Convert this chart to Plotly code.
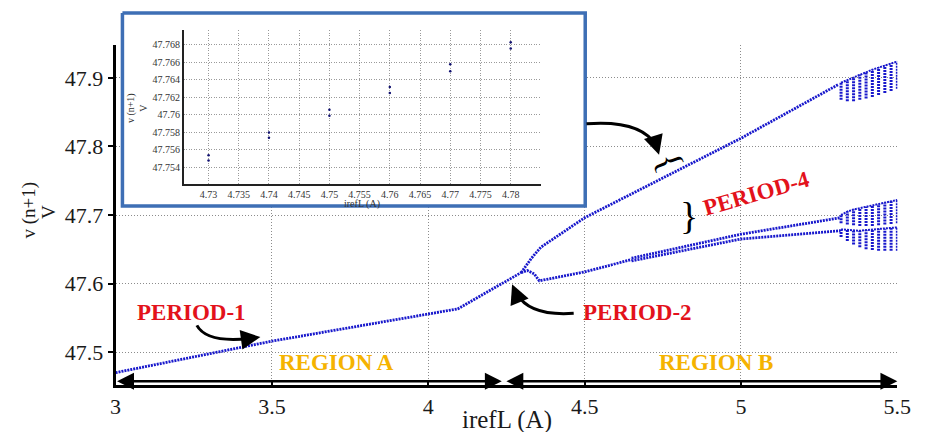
import plotly.graph_objects as go

W, H = 927, 432
BLUE = "#1818cc"
RED = "#e3121b"
GOLD = "#f5b300"
FRAME = "#3e6fb5"
SERIF = "Liberation Serif, Times New Roman, serif"

# ---------------- main chart data ----------------
p1_x = [3.0, 3.5, 4.094, 4.27, 4.297]
p1_y = [47.470, 47.516, 47.563, 47.609, 47.616]

up_x = [4.297, 4.33, 4.36, 4.5, 5.0, 5.31]
up_y = [47.616, 47.637, 47.653, 47.696, 47.812, 47.890]

low_x = [4.297, 4.317, 4.339, 4.355, 4.5, 4.65]
low_y = [47.616, 47.619, 47.614, 47.604, 47.617, 47.635]

p4a_x = [4.65, 5.0, 5.318]
p4a_y = [47.637, 47.672, 47.696]
p4b_x = [4.65, 5.0, 5.318]
p4b_y = [47.633, 47.665, 47.677]

chaos_x = [5.32, 5.34, 5.36, 5.38, 5.40, 5.42, 5.44, 5.46, 5.48, 5.50]
band1_top = [47.893, 47.897, 47.901, 47.905, 47.909, 47.912, 47.915, 47.918, 47.921, 47.924]
band1_bot = [47.868, 47.866, 47.866, 47.868, 47.870, 47.872, 47.875, 47.878, 47.881, 47.884]
band2_top = [47.700, 47.705, 47.708, 47.710, 47.712, 47.714, 47.716, 47.718, 47.720, 47.722]
band2_bot = [47.688, 47.686, 47.685, 47.684, 47.684, 47.684, 47.685, 47.686, 47.687, 47.688]
band3_top = [47.679, 47.678, 47.677, 47.677, 47.678, 47.679, 47.680, 47.680, 47.681, 47.682]
band3_bot = [47.668, 47.662, 47.657, 47.653, 47.650, 47.649, 47.648, 47.648, 47.648, 47.648]

# ---------------- inset data ----------------
inset_x = [4.73, 4.74, 4.75, 4.76, 4.77, 4.78]
inset_y1 = [47.7554, 47.7580, 47.7606, 47.7632, 47.7658, 47.7683]
inset_y2 = [47.7548, 47.7574, 47.7599, 47.7625, 47.7650, 47.7676]

# ticks
main_xticks = [3, 3.5, 4, 4.5, 5, 5.5]
main_yticks = [47.5, 47.6, 47.7, 47.8, 47.9]
inset_xticks = [4.73, 4.735, 4.74, 4.745, 4.75, 4.755, 4.76, 4.765, 4.77, 4.775, 4.78]
inset_yticks = [47.754, 47.756, 47.758, 47.76, 47.762, 47.764, 47.766, 47.768]

fig = go.Figure()

line_style = dict(color=BLUE, width=2.8, dash="2px,1px")
for xs, ys in [(p1_x, p1_y), (up_x, up_y), (low_x, low_y), (p4a_x, p4a_y), (p4b_x, p4b_y)]:
    fig.add_trace(go.Scatter(x=xs, y=ys, mode="lines", line=line_style,
                             xaxis="x", yaxis="y", showlegend=False, hoverinfo="skip"))


def columns(xs, tops, bots):
    cx, cy = [], []
    for x, t, b in zip(xs, tops, bots):
        cx += [x, x, None]
        cy += [b, t, None]
    return cx, cy


for tops, bots in [(band1_top, band1_bot), (band2_top, band2_bot), (band3_top, band3_bot)]:
    cx, cy = columns(chaos_x, tops, bots)
    fig.add_trace(go.Scatter(x=cx, y=cy, mode="lines",
                             line=dict(color=BLUE, width=3, dash="2px,1px"),
                             xaxis="x", yaxis="y", showlegend=False, hoverinfo="skip"))
    fig.add_trace(go.Scatter(x=chaos_x, y=tops, mode="lines",
                             line=dict(color=BLUE, width=2, dash="2px,1px"),
                             xaxis="x", yaxis="y", showlegend=False, hoverinfo="skip"))

# white inset panel with blue frame (on a full-figure overlay subplot)
fig.add_trace(go.Scatter(x=[119, 592, 592, 119, 119], y=[13, 13, 206, 206, 13],
                         mode="lines", fill="toself", fillcolor="white",
                         line=dict(color=FRAME, width=3.5),
                         xaxis="x2", yaxis="y2", showlegend=False, hoverinfo="skip"))

# inset points
for ys in (inset_y1, inset_y2):
    fig.add_trace(go.Scatter(x=inset_x, y=ys, mode="markers",
                             marker=dict(color="#101070", size=2.5),
                             xaxis="x3", yaxis="y3", showlegend=False, hoverinfo="skip"))

grid = dict(showgrid=True, gridcolor="#8c8c8c", griddash="1px,2px", gridwidth=1, zeroline=False)
igrid = dict(showgrid=True, gridcolor="#9a9a9a", griddash="1px,1.5px", gridwidth=1, zeroline=False)

fig.update_layout(
    width=W, height=H,
    margin=dict(l=0, r=0, t=0, b=0),
    paper_bgcolor="white", plot_bgcolor="rgba(0,0,0,0)",
    xaxis=dict(domain=[112 / W, 911 / W], range=[3, 5.5], tickvals=main_xticks,
               showline=True, linewidth=3, linecolor="black", ticks="inside",
               ticklen=5, tickwidth=2, tickcolor="black",
               tickfont=dict(family=SERIF, size=22, color="#1a1a1a"), anchor="y", **grid),
    yaxis=dict(domain=[47 / H, 387 / H], range=[47.452, 47.948], tickvals=main_yticks,
               showline=True, linewidth=3, linecolor="black", ticks="outside",
               ticklen=5, tickwidth=2, tickcolor="black",
               tickfont=dict(family=SERIF, size=22, color="#1a1a1a"), anchor="x", **grid),
    xaxis2=dict(domain=[0, 1], range=[0, W], visible=False, anchor="y2", fixedrange=True),
    yaxis2=dict(domain=[0, 1], range=[H, 0], visible=False, anchor="x2", fixedrange=True),
    xaxis3=dict(domain=[181.7 / W, 546.7 / W], range=[4.7259, 4.785], tickvals=inset_xticks,
                showline=True, linewidth=1.5, linecolor="#222", ticks="",
                tickfont=dict(family=SERIF, size=10, color="#333"), anchor="y3", **igrid),
    yaxis3=dict(domain=[(H - 184) / H, (H - 30) / H], range=[47.7521, 47.7697],
                tickvals=inset_yticks, showline=True, linewidth=1.5, linecolor="#222", ticks="",
                tickfont=dict(family=SERIF, size=10, color="#333"), anchor="x3", **igrid),
)

# ---------------- text annotations ----------------
ann = []
ctr = dict(xanchor="center", yanchor="middle", showarrow=False)
# axis titles
ann.append(dict(text="irefL (A)", xref="paper", yref="paper", x=512 / W, y=(H - 420) / H,
                font=dict(family=SERIF, size=25, color="#1a1a1a"), **ctr))
ann.append(dict(text="v (n+1)", xref="paper", yref="paper", x=24 / W, y=(H - 210) / H,
                textangle=-90, font=dict(family=SERIF, size=19, color="#1a1a1a"), **ctr))
ann.append(dict(text="V", xref="paper", yref="paper", x=44 / W, y=(H - 212) / H,
                textangle=-90, font=dict(family=SERIF, size=19, color="#1a1a1a"), **ctr))
# inset titles
ann.append(dict(text="irefL (A)", xref="paper", yref="paper", x=364 / W, y=(H - 204) / H,
                font=dict(family=SERIF, size=10, color="#333"), **ctr))
ann.append(dict(text="v (n+1)<br>V", xref="paper", yref="paper", x=134 / W, y=(H - 108) / H,
                textangle=-90, font=dict(family=SERIF, size=10, color="#333"), **ctr))

bold_red = dict(family=SERIF, size=23, color=RED, weight="bold")
ann.append(dict(text="PERIOD-1", x=3.244, y=47.558, font=bold_red, **ctr))
ann.append(dict(text="PERIOD-2", x=4.669, y=47.558, font=bold_red, **ctr))
ann.append(dict(text="PERIOD-4", x=5.05, y=47.731, textangle=-16, font=bold_red, **ctr))
gold = dict(family=SERIF, size=23, color=GOLD, weight="bold")
ann.append(dict(text="REGION A", x=3.708, y=47.4855, font=gold, **ctr))
ann.append(dict(text="REGION B", x=4.919, y=47.4855, font=gold, **ctr))
# braces
ann.append(dict(text="}", x=4.835, y=47.699,
                font=dict(family=SERIF, size=38, color="black"), **ctr))
ann.append(dict(text="}", x=4.76, y=47.776, textangle=-112,
                font=dict(family=SERIF, size=36, color="black"), **ctr))

# arrowheads at the ends of the curved arrows
for tip_x, tip_y, ax, ay in [(3.463, 47.522, -14, 2), (4.738, 47.788, -4, -13), (4.268, 47.599, 5, 12)]:
    ann.append(dict(x=tip_x, y=tip_y, ax=ax, ay=ay, text="", showarrow=True,
                    arrowhead=2, arrowsize=1.3, arrowwidth=3, arrowcolor="black"))

# region double arrows
for x0, x1 in [(3.0, 4.235), (4.245, 5.5)]:
    ann.append(dict(x=x1, y=47.4575, ax=x0, ay=47.4575, axref="x", ayref="y", text="",
                    showarrow=True, arrowhead=2, startarrowhead=2, arrowside="end+start",
                    arrowsize=1.3, startarrowsize=1.3, arrowwidth=2.6, arrowcolor="black"))

fig.update_layout(annotations=ann)

# curved arrow shafts
curves = [
    "M 3.260,47.539 Q 3.291,47.513 3.430,47.520",
    "M 4.506,47.833 Q 4.684,47.839 4.730,47.800",
    "M 4.465,47.5565 Q 4.324,47.552 4.283,47.585",
]
for p in curves:
    fig.add_shape(type="path", path=p, xref="x", yref="y", layer="above",
                  line=dict(color="black", width=3))

fig.write_html("out.html")
